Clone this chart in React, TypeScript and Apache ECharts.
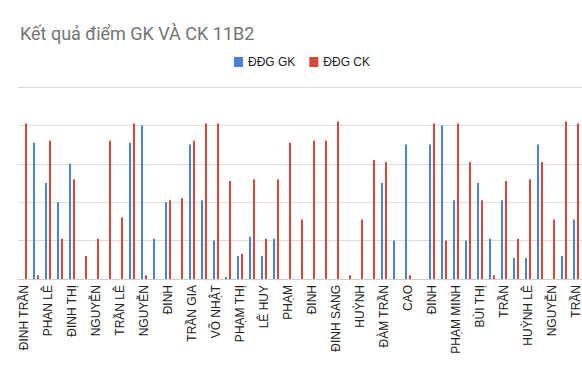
import React, { useEffect, useRef } from "react";
import * as echarts from "echarts";

const visibleNames = [
  "ĐINH TRẦN", "PHAN LÊ", "ĐINH THỊ", "NGUYỄN", "TRẦN LÊ", "NGUYỄN",
  "ĐINH", "TRẦN GIA", "VÕ NHẬT", "PHẠM THỊ", "LÊ HUY", "PHẠM",
  "ĐINH", "ĐINH SANG", "HUỲNH", "ĐÀM TRẦN", "CAO", "ĐINH",
  "PHẠM MINH", "BÙI THỊ", "TRẦN", "HUỲNH LÊ", "NGUYỄN", "TRẦN",
];
// Names between the visible labels are hidden in the reference (label interval)
const hiddenNames = [
  "LÊ", "NGUYỄN", "TRẦN", "LÊ", "PHAN", "NGUYỄN", "LÊ", "TRẦN", "NGUYỄN",
  "HỒ", "VÕ", "NGUYỄN", "LÊ", "TRẦN", "PHẠM", "NGUYỄN", "LÊ", "TRẦN",
  "NGUYỄN", "VÕ", "LÊ", "PHẠM", "NGUYỄN",
];
const categories: string[] = [];
visibleNames.forEach((n, i) => {
  categories.push(n);
  if (i < hiddenNames.length) categories.push(hiddenNames[i]);
});

const gkScores = [
  0, 7.1, 5.0, 4.0, 6.0, 0, 0, 0, 0, 7.1, 8.0, 2.1, 4.0, 0, 7.0, 4.1,
  2.0, 0.1, 1.2, 2.2, 1.2, 2.1, 0, 0, 0, 0, 0, 0, 0, 0, 5.0, 2.0,
  7.0, 0, 7.0, 8.0, 4.1, 2.0, 5.0, 2.1, 4.1, 1.1, 1.1, 7.0, 0, 1.2, 3.1,
];
const ckScores = [
  8.1, 0.2, 7.2, 2.1, 5.2, 1.2, 2.1, 7.2, 3.2, 8.1, 0.2, 0, 4.1, 4.2, 7.2, 8.1,
  8.1, 5.1, 1.3, 5.2, 2.1, 5.2, 7.1, 3.1, 7.2, 7.2, 8.2, 0.2, 3.1, 6.2, 6.1, 0,
  0.2, 0, 8.1, 2.0, 8.1, 6.1, 4.1, 0.2, 5.1, 2.1, 5.2, 6.1, 3.1, 8.2, 8.1,
];

const yTicks = { min: 0, max: 10, interval: 2 };

export default function App() {
  const ref = useRef<HTMLDivElement>(null);
  useEffect(() => {
    if (!ref.current) return;
    const chart = echarts.init(ref.current, null, { renderer: "svg" });
    chart.setOption({
      animation: false,
      backgroundColor: "#ffffff",
      textStyle: { fontFamily: "Roboto, Arial, sans-serif" },
      title: {
        text: "Kết quả điểm GK VÀ CK 11B2",
        left: 15,
        top: 19,
        textStyle: { fontSize: 18, fontWeight: "normal", color: "#757575", fontFamily: "Roboto, Arial, sans-serif" },
      },
      legend: {
        top: 51,
        left: 229,
        itemWidth: 9,
        itemHeight: 10,
        itemGap: 14,
        icon: "rect",
        textStyle: { fontSize: 12, color: "#222222", fontFamily: "Arial, Liberation Sans, sans-serif" },
        data: ["ĐĐG GK", "ĐĐG CK"],
      },
      grid: { left: 18, right: 0, top: 87, bottom: 93, containLabel: false },
      xAxis: {
        type: "category",
        data: categories,
        axisTick: { show: false },
        axisLine: { lineStyle: { color: "#cccccc" } },
        axisLabel: {
          interval: 1,
          rotate: 90,
          fontSize: 12,
          color: "#222222",
          margin: 6,
          fontFamily: "Arial, Liberation Sans, sans-serif",
        },
      },
      yAxis: {
        type: "value",
        min: yTicks.min,
        max: yTicks.max,
        interval: yTicks.interval,
        axisLabel: { show: false },
        axisLine: { show: false },
        axisTick: { show: false },
        splitLine: { lineStyle: { color: "#dddddd" } },
      },
      series: [
        {
          name: "ĐĐG GK",
          type: "bar",
          data: gkScores,
          barWidth: 2,
          barGap: "100%",
          itemStyle: { color: "#4a82d6" },
        },
        {
          name: "ĐĐG CK",
          type: "bar",
          data: ckScores,
          barWidth: 2,
          itemStyle: { color: "#d4473b" },
        },
      ],
    });
    return () => chart.dispose();
  }, []);
  return <div ref={ref} style={{ width: 582, height: 372, position: "absolute", left: 0, top: 0 }} />;
}
